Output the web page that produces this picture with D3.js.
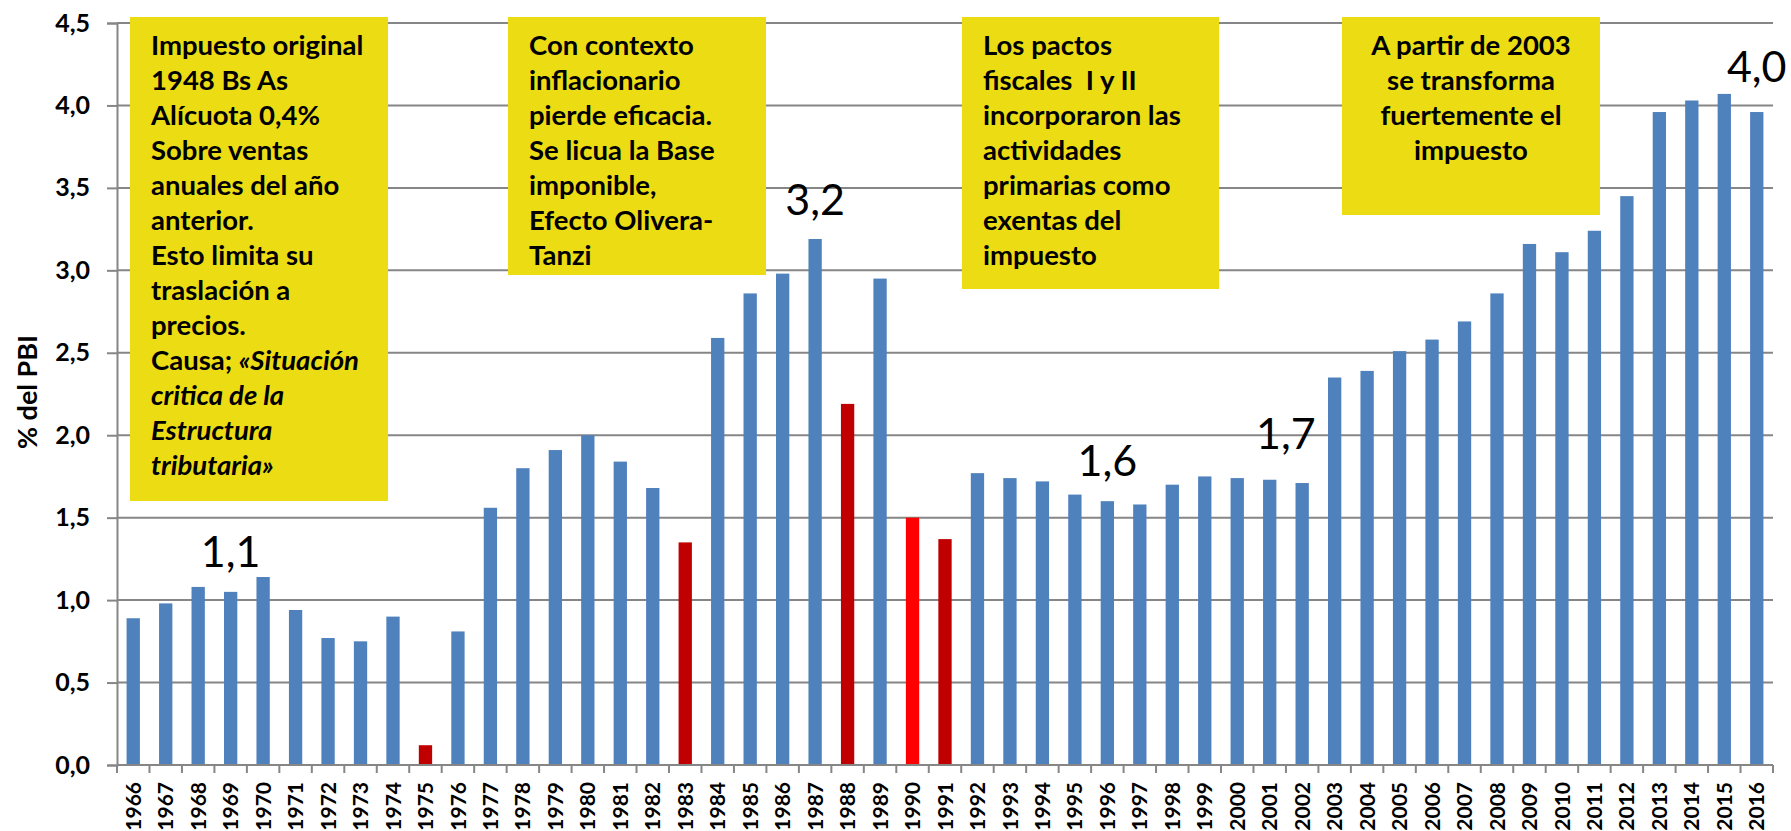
<!DOCTYPE html>
<html>
<head>
<meta charset="utf-8">
<script src="https://cdn.jsdelivr.net/npm/d3@7"></script>
<style>
    body { margin: 0; background: #fff; }
    svg { display: block; }
    text { font-family: Lato, "Open Sans", sans-serif; }
</style>
</head>
<body>
<svg id="vis" width="1791" height="831"></svg>
<script>
'use strict';

var years = [1966, 1967, 1968, 1969, 1970, 1971, 1972, 1973, 1974, 1975,
    1976, 1977, 1978, 1979, 1980, 1981, 1982, 1983, 1984, 1985,
    1986, 1987, 1988, 1989, 1990, 1991, 1992, 1993, 1994, 1995,
    1996, 1997, 1998, 1999, 2000, 2001, 2002, 2003, 2004, 2005,
    2006, 2007, 2008, 2009, 2010, 2011, 2012, 2013, 2014, 2015, 2016];

// % del PBI
var values = [0.89, 0.98, 1.08, 1.05, 1.14, 0.94, 0.77, 0.75, 0.90, 0.12,
    0.81, 1.56, 1.80, 1.91, 2.00, 1.84, 1.68, 1.35, 2.59, 2.86,
    2.98, 3.19, 2.19, 2.95, 1.50, 1.37, 1.77, 1.74, 1.72, 1.64,
    1.60, 1.58, 1.70, 1.75, 1.74, 1.73, 1.71, 2.35, 2.39, 2.51,
    2.58, 2.69, 2.86, 3.16, 3.11, 3.24, 3.45, 3.96, 4.03, 4.07, 3.96];

var yTicks = [0, 0.5, 1, 1.5, 2, 2.5, 3, 3.5, 4, 4.5];

// years drawn in red
var darkRedYears = [1975, 1983, 1988, 1991];
var brightRedYears = [1990];

// labels written over some bars
var labelYears = [1969, 1987, 1996, 2001, 2016];
var labelTexts = ['1,1', '3,2', '1,6', '1,7', '4,0'];

var note1 = ['Impuesto original', '1948 Bs As', 'Alícuota 0,4%', 'Sobre ventas',
    'anuales del año', 'anterior.', 'Esto limita su', 'traslación a', 'precios.',
    ['Causa; ', '«Situación'], ['', 'critica de la'], ['', 'Estructura'], ['', 'tributaria»']];
var note2 = ['Con contexto', 'inflacionario', 'pierde eficacia.', 'Se licua la Base',
    'imponible,', 'Efecto Olivera-', 'Tanzi'];
var note3 = ['Los pactos', 'fiscales  I y II', 'incorporaron las', 'actividades',
    'primarias como', 'exentas del', 'impuesto'];
var note4 = ['A partir de 2003', 'se transforma', 'fuertemente el', 'impuesto'];

(function () {
    var svg = d3.select('#vis');
    var left = 117, right = 1773, plotTop = 23, bottom = 765;

    var x = d3.scaleBand().domain(years).range([left, right]).padding(0);
    var y = d3.scaleLinear().domain([0, 4.5]).range([bottom, plotTop]);
    var comma = d3.formatLocale({decimal: ',', thousands: '.', grouping: [3], currency: ['$', '']}).format('.1f');

    var gridColor = '#868686';

    // gridlines
    svg.append('g')
        .selectAll('line')
        .data(yTicks)
        .enter().append('line')
        .attr('x1', left).attr('x2', right)
        .attr('y1', function(d){ return y(d); })
        .attr('y2', function(d){ return y(d); })
        .attr('stroke', gridColor)
        .attr('stroke-width', 2);

    // y axis
    var yAxis = svg.append('g')
        .attr('transform', 'translate(' + left + ',0)')
        .call(d3.axisLeft(y).tickValues(yTicks).tickFormat(comma).tickSize(10).tickPadding(17));
    yAxis.select('.domain').attr('stroke', gridColor).attr('stroke-width', 2);
    yAxis.selectAll('.tick line').attr('stroke', gridColor).attr('stroke-width', 2);
    yAxis.selectAll('text')
        .attr('fill', '#000')
        .style('font-size', '25px')
        .style('font-weight', 'bold');

    // bars
    var bw = x.bandwidth() * 0.41;
    svg.append('g')
        .selectAll('rect')
        .data(values)
        .enter().append('rect')
        .attr('x', function(d, i){ return x(years[i]) + (x.bandwidth() - bw) / 2; })
        .attr('y', function(d){ return y(d); })
        .attr('width', bw)
        .attr('height', function(d){ return y(0) - y(d); })
        .attr('fill', function(d, i){
            if (darkRedYears.indexOf(years[i]) >= 0) return '#C00000';
            if (brightRedYears.indexOf(years[i]) >= 0) return '#FF0000';
            return '#4F81BD';
        });

    // x axis line and ticks at band edges
    var xg = svg.append('g');
    xg.append('line')
        .attr('x1', left).attr('x2', right)
        .attr('y1', bottom).attr('y2', bottom)
        .attr('stroke', gridColor).attr('stroke-width', 2);
    xg.selectAll('.edge')
        .data(years.concat(['end']))
        .enter().append('line')
        .attr('class', 'edge')
        .attr('x1', function(d){ return d === 'end' ? right : x(d); })
        .attr('x2', function(d){ return d === 'end' ? right : x(d); })
        .attr('y1', bottom).attr('y2', bottom + 8)
        .attr('stroke', gridColor).attr('stroke-width', 2);

    var xAxis = svg.append('g')
        .attr('transform', 'translate(0,' + bottom + ')')
        .call(d3.axisBottom(x).tickSize(0).tickPadding(0));
    xAxis.select('.domain').remove();
    xAxis.selectAll('text')
        .attr('fill', '#000')
        .attr('transform', 'translate(0,17) rotate(-90)')
        .attr('x', 0).attr('y', 0).attr('dy', '0.36em')
        .style('text-anchor', 'end')
        .style('font-size', '21px')
        .style('font-weight', 'bold');

    // y axis title
    svg.append('text')
        .attr('transform', 'translate(37,392) rotate(-90)')
        .style('text-anchor', 'middle')
        .style('font-size', '27px')
        .style('font-weight', 'bold')
        .text('% del PBI');

    // value labels
    var labelDx = [0, 0, 0, 0.5, 0];
    var labelDy = [25, 24, 25, 31, 30];
    svg.append('g')
        .selectAll('text')
        .data(labelTexts)
        .enter().append('text')
        .attr('x', function(d, i){ return x(labelYears[i]) + x.bandwidth() * (0.5 + labelDx[i]); })
        .attr('y', function(d, i){ return y(values[years.indexOf(labelYears[i])]) - labelDy[i]; })
        .style('text-anchor', 'middle')
        .style('font-size', '43px')
        .text(function(d){ return d; });

    // yellow note boxes
    function note(lines, bx, by, w, h, center) {
        var g = svg.append('g');
        g.append('rect')
            .attr('x', bx).attr('y', by)
            .attr('width', w).attr('height', h)
            .attr('fill', '#EBDC14');
        var t = g.append('text')
            .style('font-size', '27.5px')
            .style('font-weight', 'bold')
            .style('white-space', 'pre')
            .style('text-anchor', center ? 'middle' : 'start');
        lines.forEach(function(line, i){
            var ly = 55 + i * 35;
            var lx = center ? bx + w / 2 : bx + 21;
            if (typeof line === 'string') {
                t.append('tspan').attr('x', lx).attr('y', ly).text(line);
            } else if (line[0] === '') {
                t.append('tspan').attr('x', lx).attr('y', ly)
                    .style('font-style', 'italic').text(line[1]);
            } else {
                t.append('tspan').attr('x', lx).attr('y', ly).text(line[0]);
                t.append('tspan').style('font-style', 'italic').text(line[1]);
            }
        });
    }

    note(note1, 130, 17, 258, 484, false);
    note(note2, 508, 17, 258, 258, false);
    note(note3, 962, 17, 257, 272, false);
    note(note4, 1342, 17, 258, 198, true);
})();
</script>
</body>
</html>
